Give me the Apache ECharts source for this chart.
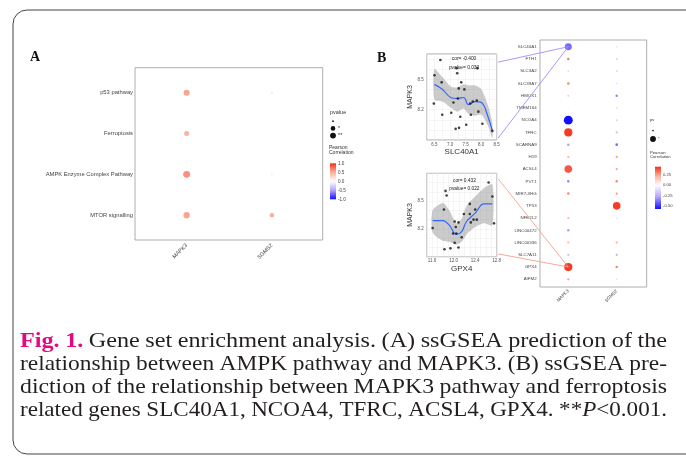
<!DOCTYPE html>
<html>
<head>
<meta charset="utf-8">
<script src="https://cdn.jsdelivr.net/npm/echarts@6/dist/echarts.min.js"></script>
<style>
  html, body { margin: 0; padding: 0; background: #fff; }
  #main { width: 686px; height: 457px; }
</style>
</head>
<body>
<div id="main"></div>
<script>
// ---- panel A: pathways vs genes
const pathwaysA = ['p53 pathway', 'Ferroptosis', 'AMPK Enzyme Complex Pathway', 'MTOR signalling'];
const genesA = ['MAPK3', 'SGMS2'];
const corA_MAPK3 = [0.55, 0.48, 0.62, 0.55];
const corA_SGMS2 = [0.2, 0.06, 0.16, 0.5];
const pA_MAPK3 = [0.0017, 0.006, 0.0005, 0.0011];
const pA_SGMS2 = [0.28, 0.55, 0.3, 0.011];

// ---- panel B: ferroptosis genes vs MAPK3 / SGMS2
const genesB = ['SLC40A1', 'FTH1', 'SLC3A2', 'SLC39A7', 'HMOX1', 'TMEM164', 'NCOA4', 'TFRC', 'SCARNA9', 'H19',
  'ACSL4', 'PVT1', 'MIR7-3HG', 'TP53', 'NFE2L2', 'LINC00472', 'LINC00336', 'SLC7A11', 'GPX4', 'AIFM2'];
const corB_MAPK3 = [-0.40, 0.32, -0.12, 0.30, 0.15, 0.04, -0.58, 0.43, -0.30, 0.20,
  0.38, -0.35, 0.30, 0.03, 0.22, -0.30, 0.20, -0.22, 0.43, 0.25];
const pB_MAPK3 = [0.0005, 0.15, 0.4, 0.15, 0.3, 0.5, 0.00004, 0.0001, 0.15, 0.2,
  0.0002, 0.15, 0.15, 0.5, 0.2, 0.15, 0.2, 0.2, 0.0001, 0.2];
const corB_SGMS2 = [0.10, 0.15, 0.15, -0.10, -0.35, 0.10, -0.15, -0.20, -0.40, 0.25,
  0.25, 0.30, 0.28, 0.43, -0.10, 0.00, 0.22, -0.25, 0.30, 0.10];
const pB_SGMS2 = [0.4, 0.3, 0.3, 0.4, 0.15, 0.4, 0.3, 0.25, 0.12, 0.2,
  0.2, 0.15, 0.2, 0.0002, 0.4, 0.6, 0.2, 0.2, 0.15, 0.4];

// ---- scatter: SLC40A1 vs MAPK3
const slcX = [6.69, 6.50, 6.73, 6.48, 6.75, 7.21, 7.23, 7.36, 7.28, 7.46, 7.11, 7.25, 7.04,
  7.33, 7.18, 7.29, 7.52, 7.65, 7.73, 7.86, 7.91, 7.67, 8.04, 8.36, 7.88];
const slcY = [8.69, 8.54, 8.47, 8.26, 8.15, 8.61, 8.56, 8.47, 8.41, 8.40, 8.27, 8.31, 8.17,
  8.13, 8.01, 8.02, 8.05, 8.26, 8.28, 8.29, 8.18, 8.15, 8.06, 7.99, 8.61];
const slcFitX = [6.50, 6.76, 7.02, 7.23, 7.44, 7.59, 7.80, 8.01, 8.22, 8.36];
const slcFitY = [8.45, 8.40, 8.32, 8.31, 8.32, 8.25, 8.28, 8.27, 8.13, 7.99];
const slcLow = [8.30, 8.28, 8.22, 8.18, 8.21, 8.16, 8.14, 8.15, 8.04, 7.92];
const slcHigh = [8.60, 8.52, 8.43, 8.42, 8.45, 8.44, 8.44, 8.40, 8.24, 8.06];

// ---- scatter: GPX4 vs MAPK3
const gpxX = [12.65, 11.85, 11.87, 12.72, 11.82, 12.30, 12.40, 11.61, 12.02, 12.09, 12.04, 12.19,
  12.30, 12.37, 12.43, 12.32, 11.99, 12.05, 12.15, 11.83, 11.94, 12.09, 12.02, 12.75];
const gpxY = [8.70, 8.61, 8.56, 8.55, 8.41, 8.47, 8.41, 8.21, 8.28, 8.27, 8.22, 8.36,
  8.36, 8.30, 8.30, 8.27, 8.15, 8.15, 8.11, 7.98, 7.99, 8.00, 8.05, 8.26];
const gpxFitX = [11.61, 11.80, 11.92, 12.05, 12.15, 12.24, 12.40, 12.56, 12.72];
const gpxFitY = [8.29, 8.29, 8.24, 8.14, 8.17, 8.28, 8.37, 8.47, 8.47];
const gpxLow = [8.16, 8.07, 8.06, 8.03, 8.06, 8.14, 8.22, 8.26, 8.24];
const gpxHigh = [8.40, 8.48, 8.40, 8.26, 8.31, 8.45, 8.55, 8.64, 8.68];

const captionLines = [
  'Fig. 1. Gene set enrichment analysis. (A) ssGSEA prediction of the',
  'relationship between AMPK pathway and MAPK3. (B) ssGSEA pre-',
  'diction of the relationship between MAPK3 pathway and ferroptosis',
  'related genes SLC40A1, NCOA4, TFRC, ACSL4, GPX4. **P<0.001.'
];

const SANS = '"Liberation Sans", Arial, sans-serif';
const SERIF = '"Liberation Serif", "Times New Roman", serif';
const loA = -1, hiA = 1, loB = -0.58, hiB = 0.45;

function sizeOf(p) { return 1 + 1.8 * -Math.log10(p); }

function corColor(v, lo, hi) {
  if (v >= 0) return echarts.color.lerp(Math.min(v / hi, 1), ['#ffffff', '#fbb09b', '#f5301c']);
  return echarts.color.lerp(Math.min(v / lo, 1), ['#ffffff', '#b4a2ff', '#1010ff']);
}

function bubbleSeries(axis, rows, col, cors, ps, lo, hi) {
  return {
    type: 'scatter', xAxisIndex: axis, yAxisIndex: axis,
    data: rows.map((r, i) => [col, r, cors[i], ps[i]]),
    symbolSize: v => sizeOf(v[3]),
    itemStyle: { color: p => corColor(p.value[2], lo, hi), opacity: 1 }
  };
}

function pairs(xs, ys) { return xs.map((x, i) => [x, ys[i]]); }

// grey confidence band drawn as one polygon through the axis scales
function bandSeries(axis, xs, low, high) {
  return {
    type: 'custom', xAxisIndex: axis, yAxisIndex: axis, silent: true, z: 1,
    data: xs.map((x, i) => [x, low[i], high[i]]),
    renderItem: (params, api) => {
      if (params.dataIndex !== 0) return null;
      const up = xs.map((x, i) => api.coord([x, high[i]]));
      const dn = xs.map((x, i) => api.coord([x, low[i]])).reverse();
      return { type: 'polygon', shape: { points: up.concat(dn), smooth: 0.25 },
        style: { fill: 'rgba(140,140,140,0.45)' } };
    }
  };
}

const tickFmt = shown => v => shown.some(s => Math.abs(s - v) < 1e-6) ? v.toFixed(1) : '';
const gridLine = { show: true, lineStyle: { color: '#ebebeb', width: 0.5 } };
const tickLabel = { fontSize: 4.5, color: '#555', fontFamily: SANS };

const chart = echarts.init(document.getElementById('main'));

const option = {
  animation: false,
  grid: [
    { left: 144, top: 72.3, width: 170.6, height: 163.3 },
    { left: 426.7, top: 54, width: 70, height: 86, show: true, borderColor: '#8a8a8a', borderWidth: 0.8, backgroundColor: '#fff' },
    { left: 426.7, top: 173.3, width: 70, height: 83.4, show: true, borderColor: '#8a8a8a', borderWidth: 0.8, backgroundColor: '#fff' },
    { left: 544.1, top: 40.6, width: 96.8, height: 244.8 }
  ],
  xAxis: [
    { gridIndex: 0, type: 'category', data: genesA, axisLine: { show: false }, axisTick: { show: false },
      axisLabel: { rotate: 45, fontSize: 5.5, color: '#444', margin: 9, fontFamily: SANS } },
    { gridIndex: 1, type: 'value', min: 6.25, max: 8.5, interval: 0.25, axisLine: { show: false }, axisTick: { show: false },
      axisLabel: Object.assign({ margin: 2, formatter: tickFmt([6.5, 7, 7.5, 8, 8.5]) }, tickLabel), splitLine: gridLine,
      name: 'SLC40A1', nameLocation: 'middle', nameGap: 7, nameTextStyle: { fontSize: 8, color: '#333', fontFamily: SANS } },
    { gridIndex: 2, type: 'value', min: 11.5, max: 12.8, interval: 0.1, axisLine: { show: false }, axisTick: { show: false },
      axisLabel: Object.assign({ margin: 2, formatter: tickFmt([11.6, 12.0, 12.4, 12.8]) }, tickLabel), splitLine: gridLine,
      name: 'GPX4', nameGap: 7.5, nameLocation: 'middle', nameTextStyle: { fontSize: 8, color: '#333', fontFamily: SANS } },
    { gridIndex: 3, type: 'category', data: genesA, axisLine: { show: false }, axisTick: { show: false },
      axisLabel: { rotate: 45, fontSize: 4.5, color: '#444', margin: 5, fontFamily: SANS } }
  ],
  yAxis: [
    { gridIndex: 0, type: 'category', data: pathwaysA, inverse: true, axisLine: { show: false }, axisTick: { show: false },
      axisLabel: { fontSize: 5.8, color: '#444', margin: 11, fontFamily: SANS } },
    { gridIndex: 1, type: 'value', min: 7.9, max: 8.75, interval: 0.1, axisLine: { show: false }, axisTick: { show: false },
      axisLabel: Object.assign({ margin: 3, formatter: tickFmt([8.2, 8.5]) }, tickLabel), splitLine: gridLine,
      name: 'MAPK3', nameLocation: 'middle', nameGap: 11, nameTextStyle: { fontSize: 7, color: '#333', fontFamily: SANS } },
    { gridIndex: 2, type: 'value', min: 7.9, max: 8.8, interval: 0.1, axisLine: { show: false }, axisTick: { show: false },
      axisLabel: Object.assign({ margin: 3, formatter: tickFmt([8.2, 8.5]) }, tickLabel), splitLine: gridLine,
      name: 'MAPK3', nameLocation: 'middle', nameGap: 11, nameTextStyle: { fontSize: 7, color: '#333', fontFamily: SANS } },
    { gridIndex: 3, type: 'category', data: genesB, inverse: true, axisLine: { show: false }, axisTick: { show: false },
      axisLabel: { fontSize: 4.4, color: '#444', margin: 7.5, fontFamily: SANS } }
  ],
  series: [
    bubbleSeries(0, pathwaysA, genesA[0], corA_MAPK3, pA_MAPK3, loA, hiA),
    bubbleSeries(0, pathwaysA, genesA[1], corA_SGMS2, pA_SGMS2, loA, hiA),
    bandSeries(1, slcFitX, slcLow, slcHigh),
    { type: 'line', xAxisIndex: 1, yAxisIndex: 1, smooth: 0.4, symbol: 'none', data: pairs(slcFitX, slcFitY),
      lineStyle: { color: '#3366ff', width: 1.2 }, z: 3 },
    { type: 'scatter', xAxisIndex: 1, yAxisIndex: 1, symbolSize: 2.6, itemStyle: { color: '#111' }, data: pairs(slcX, slcY), z: 4 },
    bandSeries(2, gpxFitX, gpxLow, gpxHigh),
    { type: 'line', xAxisIndex: 2, yAxisIndex: 2, smooth: 0.4, symbol: 'none', data: pairs(gpxFitX, gpxFitY),
      lineStyle: { color: '#3366ff', width: 1.2 }, z: 3 },
    { type: 'scatter', xAxisIndex: 2, yAxisIndex: 2, symbolSize: 2.6, itemStyle: { color: '#111' }, data: pairs(gpxX, gpxY), z: 4 },
    bubbleSeries(3, genesB, genesA[0], corB_MAPK3, pB_MAPK3, loB, hiB),
    bubbleSeries(3, genesB, genesA[1], corB_SGMS2, pB_SGMS2, loB, hiB)
  ]
};
chart.setOption(option);

// ---- decorations: frame, panel borders, legends, connectors, caption
const g = [];
g.push({ type: 'rect', shape: { x: 13, y: 10, width: 720, height: 444, r: 14 }, style: { fill: 'none', stroke: '#444', lineWidth: 1 }, z: 0 });
g.push({ type: 'text', x: 30, y: 50, style: { text: 'A', font: 'bold 14px ' + SERIF, fill: '#111' } });
g.push({ type: 'text', x: 377, y: 51, style: { text: 'B', font: 'bold 14px ' + SERIF, fill: '#111' } });
g.push({ type: 'rect', shape: { x: 135, y: 67.7, width: 187.7, height: 172.3 }, style: { fill: 'none', stroke: '#9a9a9a', lineWidth: 0.8 } });
g.push({ type: 'rect', shape: { x: 540, y: 40, width: 106.7, height: 247 }, style: { fill: 'none', stroke: '#9a9a9a', lineWidth: 0.8 } });

function colorBar(x, y, w, h, lo, hi, ticks, fs, digits) {
  const stops = [];
  for (let i = 0; i <= 20; i++) {
    const v = hi - i / 20 * (hi - lo);
    stops.push({ offset: i / 20, color: corColor(v, lo, hi) });
  }
  g.push({ type: 'rect', shape: { x: x, y: y, width: w, height: h },
    style: { fill: new echarts.graphic.LinearGradient(0, 0, 0, 1, stops) } });
  ticks.forEach(t => {
    const ty = y + (hi - t) / (hi - lo) * h;
    g.push({ type: 'text', x: x + w + 2, y: ty, style: { text: t.toFixed(digits), font: fs + 'px ' + SANS, fill: '#444', verticalAlign: 'middle' } });
  });
}

function sizeLegend(x, y, title, ps, labels, fs, step) {
  g.push({ type: 'text', x: x, y: y, style: { text: title, font: fs + 'px ' + SANS, fill: '#333', verticalAlign: 'middle' } });
  ps.forEach((p, i) => {
    const cy = y + step * (i + 1) + 2;
    g.push({ type: 'circle', shape: { cx: x + 3, cy: cy, r: sizeOf(p) / 2 }, style: { fill: '#111' } });
    g.push({ type: 'text', x: x + 8, y: cy, style: { text: labels[i], font: fs + 'px ' + SANS, fill: '#333', verticalAlign: 'middle' } });
  });
}

// legend A
sizeLegend(330, 112, 'pvalue', [0.4, 0.01, 0.002], ['', '*', '**'], 5.5, 7.2);
g.push({ type: 'text', x: 329, y: 150, style: { text: 'Pearson\nCorrelation', font: '5px ' + SANS, fill: '#333', lineHeight: 5.5, verticalAlign: 'middle' } });
colorBar(330, 163.3, 6, 36, loA, hiA, [1, 0.5, 0, -0.5, -1], 4.6, 1);
// legend B
sizeLegend(650, 120, 'pv', [0.4, 0.002], ['', '*'], 4.2, 8.5);
g.push({ type: 'text', x: 650, y: 155, style: { text: 'Pearson\nCorrelation', font: '4.2px ' + SANS, fill: '#333', lineHeight: 4.6, verticalAlign: 'middle' } });
colorBar(655, 166.7, 6, 42.3, loB, hiB, [0.25, 0, -0.25, -0.5], 4.2, 2);

// connectors from the scatter panels to their dots
const px = (ax, v) => chart.convertToPixel({ xAxisIndex: ax, yAxisIndex: ax }, v);
const slcDot = px(3, [0, genesB.indexOf('SLC40A1')]);
const gpxDot = px(3, [0, genesB.indexOf('GPX4')]);
[[px(1, [8.5, 8.67]), slcDot, '#a08cff'], [px(1, [8.5, 7.92]), slcDot, '#a08cff'],
 [px(2, [12.8, 8.74]), gpxDot, '#f5a090'], [px(2, [12.8, 7.93]), gpxDot, '#f5a090']].forEach(c => {
  g.push({ type: 'line', shape: { x1: c[0][0] + 1.5, y1: c[0][1], x2: c[1][0], y2: c[1][1] },
    style: { stroke: c[2], lineWidth: 0.9 }, z: 50 });
});

// stat annotations
const ann = (ax, v, t) => {
  const p = px(ax, v);
  g.push({ type: 'text', x: p[0], y: p[1], style: { text: t, font: '4.8px ' + SANS, fill: '#222', align: 'center', verticalAlign: 'middle' }, z: 60 });
};
ann(1, [7.45, 8.70], 'cor= -0.400');
ann(1, [7.45, 8.61], 'pvalue= 0.030');
ann(2, [12.2, 8.72], 'cor= 0.432');
ann(2, [12.2, 8.63], 'pvalue= 0.022');

// caption: words stretched horizontally so each line fills x=20..667 with normal spacing
const ctx = document.createElement('canvas').getContext('2d');
const capSize = 22, capLeft = 20, capRight = 667, capGap = 5.5;
captionLines.forEach((line, li) => {
  const words = line.split(' ').map((w, wi) => {
    let segs;
    if (li === 0 && wi < 2) segs = [{ t: w, f: 'bold ' + capSize + 'px ' + SERIF, c: '#e4097f' }];
    else if (w.indexOf('**P') === 0) segs = [{ t: '**', f: capSize + 'px ' + SERIF }, { t: 'P', f: 'italic ' + capSize + 'px ' + SERIF }, { t: w.slice(3), f: capSize + 'px ' + SERIF }];
    else segs = [{ t: w, f: capSize + 'px ' + SERIF }];
    let wd = 0;
    segs.forEach(s => { ctx.font = s.f; s.w = ctx.measureText(s.t).width; wd += s.w; });
    return { segs: segs, w: wd };
  });
  const total = words.reduce((a, b) => a + b.w, 0);
  const sc = (capRight - capLeft - capGap * (words.length - 1)) / total;
  let x = capLeft;
  const y = 341 + li * 23;
  words.forEach(wd => {
    let sx = x;
    wd.segs.forEach(s => {
      g.push({ type: 'text', x: sx, y: y, scaleX: sc, style: { text: s.t, font: s.f, fill: s.c || '#231f20', verticalAlign: 'middle' } });
      sx += s.w * sc;
    });
    x += wd.w * sc + capGap;
  });
});

chart.setOption({ graphic: g });
</script>
</body>
</html>
